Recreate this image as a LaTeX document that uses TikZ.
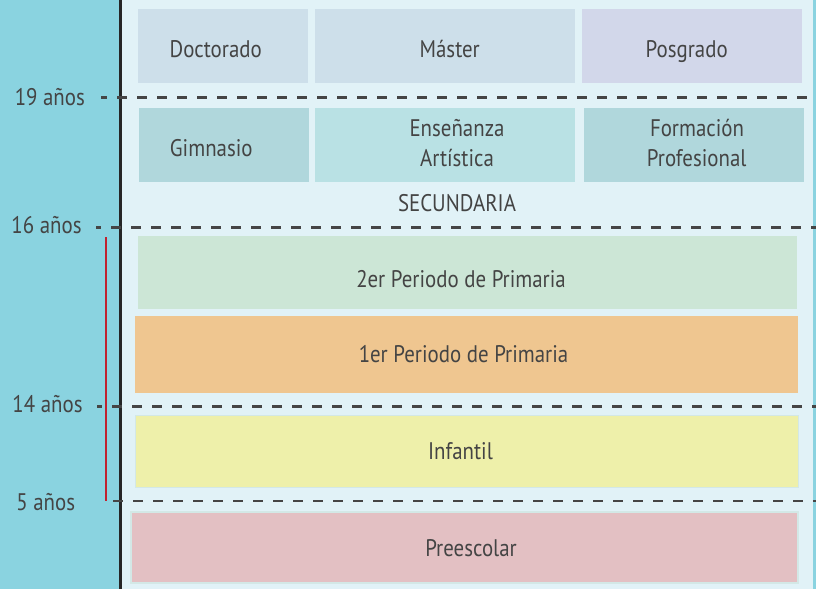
\documentclass[tikz,border=0pt]{standalone}
\usepackage{fontspec}
\setmainfont{PT Sans}[FakeStretch=0.87]
\definecolor{barcyan}{HTML}{8AD3E0}
\definecolor{bgblue}{HTML}{E1F2F7}
\definecolor{boxdoc}{HTML}{CDDFEA}
\definecolor{boxpos}{HTML}{D2D7EA}
\definecolor{boxgim}{HTML}{B0D7DC}
\definecolor{boxens}{HTML}{B9E1E4}
\definecolor{boxprim2}{HTML}{CCE6D6}
\definecolor{boxprim1}{HTML}{EFC690}
\definecolor{boxinf}{HTML}{EEF0AA}
\definecolor{boxpre}{HTML}{E3C0C3}
\definecolor{txtgray}{HTML}{444444}
\definecolor{dashgray}{HTML}{454545}
\definecolor{agered}{HTML}{C0222F}
\definecolor{faintedge}{HTML}{D3E8E6}
\tikzset{
  band/.style={draw=none, inner sep=0pt, outer sep=0pt},
  lbl/.style={anchor=base, inner sep=0pt, text=txtgray, font=\fontsize{18}{22.5}\selectfont},
  agedash/.style={draw=dashgray, line width=1.6pt, dash pattern=on 7.5pt off 7.5pt},
}
\begin{document}
\begin{tikzpicture}[x=0.75pt,y=-0.75pt]
\useasboundingbox (0,0) rectangle (816,589);
% backgrounds
\fill[bgblue] (0,0) rectangle (816,589);
\fill[barcyan] (0,0) rectangle (119.5,589);
\fill[barcyan] (813,0) rectangle (816,589);
\draw[line width=1.9pt, draw=black!85] (120.7,0) -- (120.7,589);

% row 1
\node[band, fill=boxdoc, minimum width=127.5pt, minimum height=55.5pt] (doc) at (222.75,45.5) {};
\node[band, fill=boxdoc, minimum width=195.3pt, minimum height=55.5pt] (mas) at (445.2,45.5) {};
\node[band, fill=boxpos, minimum width=165pt, minimum height=55.5pt] (pos) at (692,45.5) {};
\node[lbl] (tdoc) at (215.7,57.3) {Doctorado};
\node[lbl] (tmas) at (449.7,57.3) {Máster};
\node[lbl] (tpos) at (686.7,57.3) {Posgrado};

% row 2
\node[band, fill=boxgim, minimum width=127.5pt, minimum height=55.5pt] (gim) at (224,144.8) {};
\node[band, fill=boxens, minimum width=195.3pt, minimum height=55.5pt] (ens) at (445.2,144.8) {};
\node[band, fill=boxgim, minimum width=165pt, minimum height=55.5pt] (for) at (694,144.8) {};
\node[lbl] (tgim) at (211.3,156) {Gimnasio};
\node[lbl] (tens1) at (457,136.7) {Enseñanza};
\node[lbl] (tens2) at (457,166.7) {Artística};
\node[lbl] (tfor1) at (697,136.7) {Formación};
\node[lbl] (tfor2) at (696.7,166.7) {Profesional};
\node[lbl] (tsec) at (457,211.7) {SECUNDARIA};

% primary etc.
\node[band, fill=boxprim2, minimum width=494.25pt, minimum height=54.75pt] (pri2) at (467.5,272.5) {};
\node[band, fill=boxprim1, minimum width=497.25pt, minimum height=57.75pt] (pri1) at (466.5,354.5) {};
\node[band, fill=boxinf, draw=faintedge, line width=0.75pt, minimum width=497.25pt, minimum height=54pt] (inf) at (466.5,451.2) {};
\node[band, fill=boxpre, draw=faintedge, line width=1.5pt, minimum width=500.25pt, minimum height=53.25pt] (pre) at (464.5,547.3) {};
\node[lbl] (tpri2) at (461,287.3) {2er Periodo de Primaria};
\node[lbl] (tpri1) at (463.5,362.7) {1er Periodo de Primaria};
\node[lbl] (tinf) at (460.5,459) {Infantil};
\node[lbl] (tpre) at (471,556.7) {Preescolar};

% age lines
\coordinate (d19s) at (101,97.5);  \coordinate (d19e) at (816,97.5);
\coordinate (d16s) at (96,227.5);  \coordinate (d16e) at (816,227.5);
\coordinate (d14s) at (97,406.5);  \coordinate (d14e) at (816,406.5);
\coordinate (d5s)  at (113,500.7); \coordinate (d5e)  at (816,500.7);
\draw[agedash, dash phase=3pt] (d19s) -- (d19e);
\draw[agedash, dash phase=3.75pt] (d16s) -- (d16e);
\draw[agedash, dash phase=3.75pt] (d14s) -- (d14e);
\draw[agedash] (d5s) -- (d5e);

\node[lbl] (a19) at (49.8,105) {19 años};
\node[lbl] (a16) at (46.5,233) {16 años};
\node[lbl] (a14) at (47.5,412.7) {14 años};
\node[lbl] (a5)  at (45.7,510) {5 años};

% red bracket
\coordinate (rtop) at (106.2,237.3);
\coordinate (rbot) at (106.2,500.7);
\draw[agered, line width=1.8pt] (rtop) -- (rbot);
\end{tikzpicture}
\end{document}
